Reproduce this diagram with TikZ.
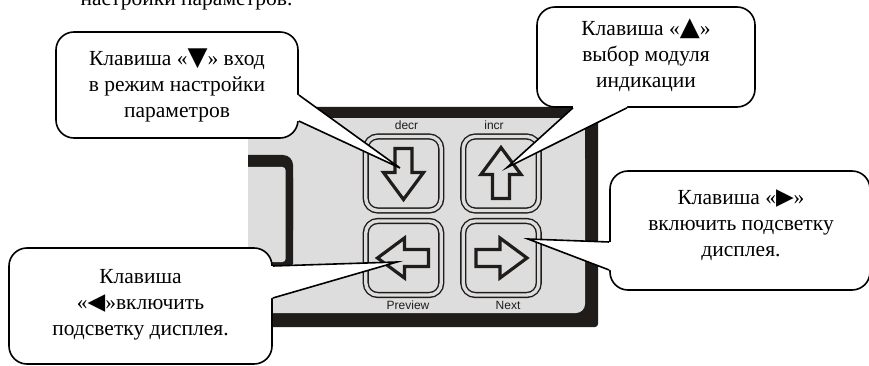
\documentclass[tikz,border=0pt]{standalone}
\usepackage{fontspec}
\setmainfont{Liberation Serif}
\newfontfamily\arialf{Liberation Sans}
\newfontfamily\dejavuf{DejaVu Sans}
\usetikzlibrary{calc}
\definecolor{panelgray}{RGB}{221,221,221}
\definecolor{ink}{RGB}{32,28,26}
\newcommand\symtri[2]{{\dejavuf\fontsize{#1}{20}\selectfont #2}}
\tikzset{
  calloutbody/.style={draw=black, line width=1.6pt, fill=white, rounded corners=18pt, inner sep=0pt},
  calltail/.style={draw=black, line width=1.6pt, line join=miter},
  ctext/.style={align=center, font=\fontsize{21.5}{26}\selectfont, inner sep=0pt},
  keybtn/.style={draw=ink, line width=1.4pt, double=panelgray, double distance=3.4pt, rounded corners=12pt, fill=panelgray, minimum width=75.5pt, minimum height=74pt, inner sep=0pt},
  keylabel/.style={font=\arialf\fontsize{12}{14}\selectfont, text=ink, anchor=base, inner sep=0pt},
  arrowst/.style={draw=ink, line width=3.2pt, fill=panelgray, line join=miter},
  barrow/.pic={\path[arrowst] (26,0) -- (-1,20) -- (-1,8.5) -- (-25,8.5) -- (-25,-8.5) -- (-1,-8.5) -- (-1,-20) -- cycle;}
}
\begin{document}
\begin{tikzpicture}[x=1pt,y=-1pt]
\useasboundingbox (0,0) rectangle (869,366);
\fill[white] (0,0) rectangle (869,366);

% partial text of the line above (cut by the page edge)
\node[ctext, anchor=base] (t0) at (186.5,5.5) {настройки параметров.};

% panel
\begin{scope}
  \clip (248,100) rectangle (620,340);
  \fill[ink, rounded corners=3pt] (200,107) rectangle (598,327);
  \fill[panelgray] (200,118) rectangle (585,300);
  \fill[panelgray, rounded corners=9pt] (200,150) rectangle (585,313);
  % display window frame
  \fill[ink, rounded corners=10pt] (200,155) rectangle (293,240);
  \fill[ink, rounded corners=3pt] (200,175) rectangle (293,266.5);
  \fill[panelgray, rounded corners=3pt] (200,167) rectangle (285.5,262);
\end{scope}

% keys
\node[keybtn] (kd) at (403.5,173.5) {};
\node[keybtn] (ki) at (501,173.5) {};
\node[keybtn] (kp) at (403.5,258) {};
\node[keybtn] (kn) at (501,258) {};
\pic[rotate=-90] at (kd.center) {barrow};
\pic[rotate=90] at (ki.center) {barrow};
\pic[rotate=180] at (kp.center) {barrow};
\pic at (kn.center) {barrow};
\node[keylabel] (ld) at (406.5,129.5) {decr};
\node[keylabel] (li) at (494,129.5) {incr};
\node[keylabel] (lp) at (408,309.5) {Preview};
\node[keylabel] (ln) at (508,309.5) {Next};

% callout bodies
\node[calloutbody, minimum width=242pt, minimum height=106pt] (c1) at (177,85) {};
\node[calloutbody, minimum width=218pt, minimum height=100pt] (c2) at (646,57) {};
\node[calloutbody, minimum width=263pt, minimum height=116pt] (c3) at (140.5,306) {};
\node[calloutbody, minimum width=260pt, minimum height=119pt] (c4) at (740,230.5) {};

% tails
\coordinate (a1) at ($(c1.east)+(0,10)$);
\coordinate (b1) at ($(c1.east)+(0,36)$);
\coordinate (p1) at ($(kd.center)+(-3.5,-5.5)$);
\fill[white] (a1) -- (p1) -- (b1) -- ($(b1)+(-5,0)$) -- ($(a1)+(-5,0)$) -- cycle;
\draw[calltail] (a1) -- (p1) -- (b1);

\coordinate (a2) at ($(c2.south)+(-73,0)$);
\coordinate (b2) at ($(c2.south)+(-19,0)$);
\coordinate (p2) at ($(ki.center)+(6,-6)$);
\fill[white] (a2) -- (p2) -- (b2) -- ($(b2)+(0,-5)$) -- ($(a2)+(0,-5)$) -- cycle;
\draw[calltail] (a2) -- (p2) -- (b2);

\coordinate (a3) at ($(c3.east)+(0,-40)$);
\coordinate (b3) at ($(c3.east)+(0,-8)$);
\coordinate (p3) at ($(kp.center)+(-6.5,4)$);
\fill[white] (a3) -- (p3) -- (b3) -- ($(b3)+(-5,0)$) -- ($(a3)+(-5,0)$) -- cycle;
\draw[calltail] (a3) -- (p3) -- (b3);

\coordinate (a4) at ($(c4.west)+(0,11.5)$);
\coordinate (b4) at ($(c4.west)+(0,39.5)$);
\coordinate (p4) at ($(kn.center)+(27,-19)$);
\fill[white] (a4) -- (p4) -- (b4) -- ($(b4)+(5,0)$) -- ($(a4)+(5,0)$) -- cycle;
\draw[calltail] (a4) -- (p4) -- (b4);

% callout texts
\node[ctext] (t1) at (177,85) {Клавиша «\symtri{26}{▼}» вход\\в режим настройки\\параметров};
\node[ctext] (t2) at (646,55) {Клавиша «\symtri{26}{▲}»\\выбор модуля\\индикации};
\node[ctext] (t3) at (140.5,305) {Клавиша\\«\symtri{23}{◀}»включить\\подсветку дисплея.};
\node[ctext] (t4) at (741,225) {Клавиша «\symtri{23}{▶}»\\включить подсветку\\дисплея.};
\end{tikzpicture}
\end{document}
